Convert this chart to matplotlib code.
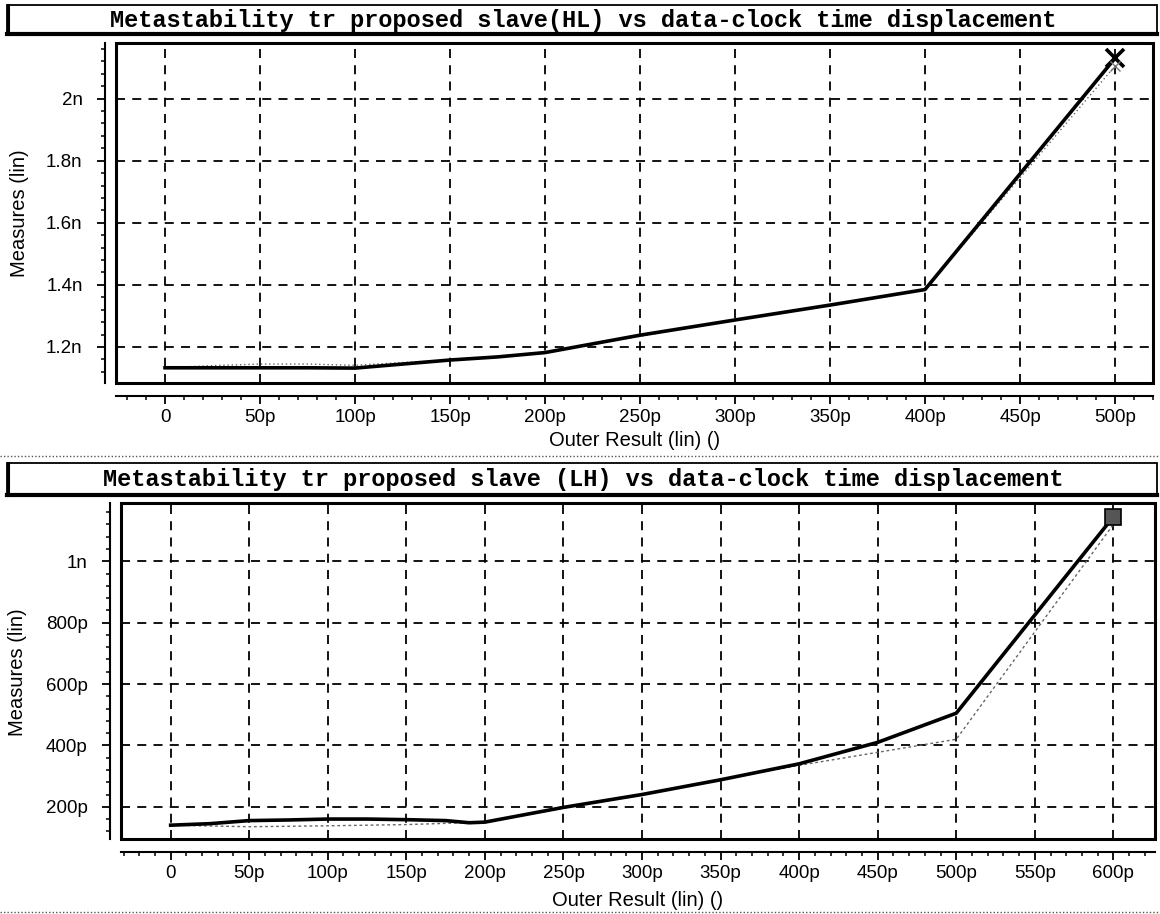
import matplotlib
matplotlib.use("Agg")
import matplotlib.pyplot as plt
from matplotlib.patches import Rectangle
from matplotlib.lines import Line2D
from matplotlib.ticker import MultipleLocator, FuncFormatter

# ---- HL transition (top panel), x in ps, y in ns
hl_x = [0, 25, 50, 75, 100, 125, 150, 175, 200, 250, 300, 350, 400, 500]
hl_y = [1.133, 1.133, 1.133, 1.133, 1.132, 1.145, 1.158, 1.168, 1.182, 1.238, 1.287, 1.335, 1.385, 2.130]
hl_x2 = [0, 25, 50, 75, 100, 125, 150, 200, 300, 400, 500]
hl_y2 = [1.133, 1.140, 1.145, 1.145, 1.141, 1.150, 1.158, 1.182, 1.287, 1.385, 2.105]

# ---- LH transition (bottom panel), x in ps, y in ps
lh_x = [0, 25, 50, 75, 100, 125, 150, 175, 190, 200, 250, 300, 350, 400, 450, 500, 600]
lh_y = [140, 145, 155, 157, 160, 160, 158, 155, 148, 150, 198, 240, 288, 340, 410, 505, 1145]
lh_x2 = [0, 50, 100, 150, 200, 300, 400, 500, 600]
lh_y2 = [140, 135, 138, 142, 150, 240, 335, 420, 1120]

title_hl = "Metastability tr proposed slave(HL) vs data-clock time displacement"
title_lh = "Metastability tr proposed slave (LH) vs data-clock time displacement"
xlab = "Outer Result (lin) ()"
ylab = "Measures (lin)"

W, H = 1160, 914
fig = plt.figure(figsize=(W / 100, H / 100), dpi=100)
fig.patch.set_facecolor("white")

SANS = "Liberation Sans"
MONO = "Liberation Mono"


def axes_px(left, top, right, bottom):
    return fig.add_axes([left / W, 1 - bottom / H, (right - left) / W, (bottom - top) / H])


def fig_line(x0, y0, x1, y1, **kw):
    fig.add_artist(Line2D([x0 / W, x1 / W], [1 - y0 / H, 1 - y1 / H],
                          transform=fig.transFigure, **kw))


def title_box(top, bottom, text):
    fig.add_artist(Rectangle((7 / W, 1 - bottom / H), 1150 / W, (bottom - top) / H,
                             transform=fig.transFigure, fill=False, lw=1.3, ec="black"))
    fig_line(7, bottom, 1157, bottom, color="black", lw=3)
    fig_line(8, top, 8, bottom, color="black", lw=2.2)
    fig.text(583 / W, 1 - ((top + bottom) / 2 + 1) / H, text, ha="center", va="center",
             family=MONO, weight="bold", size=17)


def fmt_ps(v, pos):
    if abs(v) < 1e-9:
        return "0"
    if v >= 1000:
        return f"{v / 1000:g}n"
    return f"{v:g}p"


def fmt_ns(v, pos):
    return f"{v:g}n"


def style_axes(ax, ylab_x, ylab_y, xlab_y):
    for side in ["top", "right"]:
        ax.spines[side].set_visible(False)
    ax.spines["left"].set_position(("outward", 8))
    ax.spines["bottom"].set_position(("outward", 9))
    ax.spines["left"].set_linewidth(1.5)
    ax.spines["bottom"].set_linewidth(1.5)
    ax.add_patch(Rectangle((0, 0), 1, 1, transform=ax.transAxes, fill=False,
                           lw=2.2, ec="black", clip_on=False, zorder=5))
    ax.xaxis.set_major_locator(MultipleLocator(50))
    ax.xaxis.set_minor_locator(MultipleLocator(10))
    ax.xaxis.set_major_formatter(FuncFormatter(fmt_ps))
    ax.tick_params(which="major", direction="out", length=6, width=1.3,
                   labelsize=13.5, color="black")
    ax.tick_params(which="minor", direction="out", length=3, width=1.1)
    ax.tick_params(axis="y", pad=10)
    ax.tick_params(axis="x", pad=4)
    for lab in ax.get_xticklabels() + ax.get_yticklabels():
        lab.set_family(SANS)
    ax.grid(which="major", color="black", linestyle=(0, (5, 4)), linewidth=1.3)
    ax.set_xlabel(xlab, family=SANS, size=14.5)
    ax.xaxis.set_label_coords(ax.get_position().x0 + ax.get_position().width / 2,
                              1 - xlab_y / H, transform=fig.transFigure)
    ax.set_ylabel(ylab, family=SANS, size=14.5)
    ax.yaxis.set_label_coords(ylab_x / W, 1 - ylab_y / H, transform=fig.transFigure)
    ax.xaxis.label.set_va("center")
    ax.yaxis.label.set_va("center")


# ---- top panel
title_box(5, 34, title_hl)
ax1 = axes_px(116, 43, 1153, 383)
ax1.set_xlim(-25.8, 520)
ax1.set_ylim(1.084, 2.179)
ax1.yaxis.set_major_locator(MultipleLocator(0.2))
ax1.yaxis.set_minor_locator(MultipleLocator(0.04))
ax1.yaxis.set_major_formatter(FuncFormatter(fmt_ns))
ax1.plot(hl_x2, hl_y2, color="#666666", lw=1, linestyle=(0, (1, 2)), zorder=3)
ax1.plot(hl_x, hl_y, color="black", lw=2.6, zorder=4)
ax1.plot(hl_x[-1], hl_y[-1], marker="x", ms=13, mew=2.6, color="black", zorder=6, clip_on=False)
ax1.plot(hl_x2[-1], hl_y2[-1], marker="x", ms=7, mew=1, color="#777777", zorder=6)
style_axes(ax1, 20, 213, 440)

fig_line(0, 456, 1160, 456, color="#555555", lw=1, linestyle=(0, (1, 1.5)))

# ---- bottom panel
title_box(463, 495, title_lh)
ax2 = axes_px(121, 503, 1155, 839)
ax2.set_xlim(-31.6, 626.5)
ax2.set_ylim(95, 1190)
ax2.yaxis.set_major_locator(MultipleLocator(200))
ax2.yaxis.set_minor_locator(MultipleLocator(40))
ax2.yaxis.set_major_formatter(FuncFormatter(fmt_ps))
ax2.plot(lh_x2, lh_y2, color="#666666", lw=1, linestyle=(0, (2, 2)), zorder=3)
ax2.plot(lh_x, lh_y, color="black", lw=2.6, zorder=4)
ax2.plot(lh_x[-1], lh_y[-1], marker="s", ms=11, mfc="#555555", mec="black", mew=1.2,
         zorder=6, clip_on=False)
style_axes(ax2, 18, 672, 900)

fig_line(0, 912, 1160, 912, color="#555555", lw=1, linestyle=(0, (1, 1.5)))

fig.savefig("out.png", dpi=100)
